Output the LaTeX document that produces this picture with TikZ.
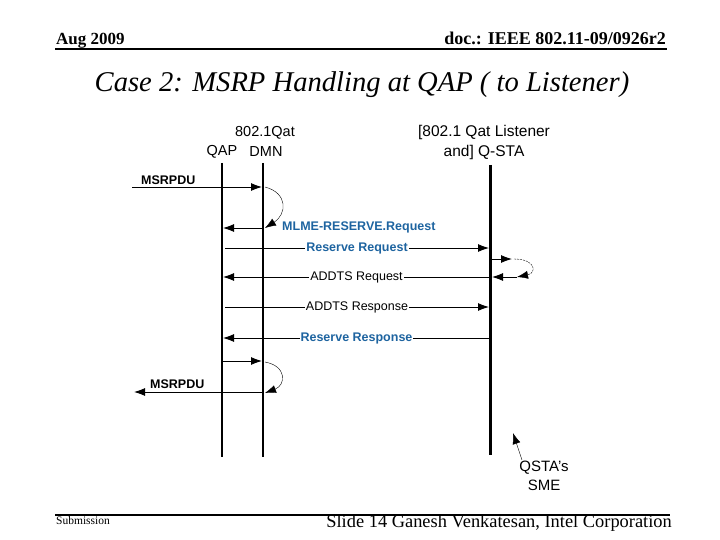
\documentclass[tikz,border=0pt]{standalone}
\usepackage{fontspec}
\setmainfont{Liberation Serif}
\setsansfont{Liberation Sans}
\usetikzlibrary{arrows.meta,positioning}
\definecolor{msgblue}{RGB}{30,100,160}
\tikzset{
    lifeline/.style={line width=#1},
    msg/.style={line width=0.9pt, -{Latex[length=11pt,width=8pt]}},
    loopline/.style={line width=0.4pt, -{Latex[length=11pt,width=8pt]}},
    headlbl/.style={font=\sffamily\fontsize{14.5}{16}\selectfont, inner sep=0pt},
    msglbl/.style={font=\sffamily\fontsize{12.5}{14}\selectfont, inner sep=1pt, fill=white},
    bluelbl/.style={msglbl, font=\sffamily\bfseries\fontsize{12.5}{14}\selectfont, text=msgblue},
}

\begin{document}
\begin{tikzpicture}[x=1pt, y=-1pt]
    \useasboundingbox (0,0) rectangle (720,540);

    % header and footer
    \node[anchor=base west, inner sep=0pt, font=\bfseries\fontsize{17}{18}\selectfont] (date) at (56,45) {Aug 2009};
    \node[anchor=base east, inner sep=0pt, font=\bfseries\fontsize{18}{18}\selectfont] (doc) at (666,45) {doc.: IEEE 802.11-09/0926r2};
    \coordinate (hl) at (55,49);
    \coordinate (hr) at (667,49);
    \draw[line width=2pt] (hl) -- (hr);

    \node[font=\itshape\fontsize{28.6}{30}\selectfont, inner sep=0pt] (title) at (362,85) {Case 2: MSRP Handling at QAP ( to Listener)};

    \coordinate (fl) at (55,515);
    \coordinate (fr) at (670,515);
    \draw[line width=2pt] (fl) -- (fr);
    \node[anchor=base west, inner sep=0pt, font=\fontsize{11.5}{12}\selectfont] (subm) at (56,524) {Submission};
    \node[anchor=base east, inner sep=0pt, font=\fontsize{18.4}{19}\selectfont] (slide) at (672,527) {Slide 14 Ganesh Venkatesan, Intel Corporation};

    % lifelines
    \coordinate (qapT) at (222,163);
    \coordinate (qapB) at (222,457);
    \coordinate (dmnT) at (263,163);
    \coordinate (dmnB) at (263,457);
    \coordinate (staT) at (490,165);
    \coordinate (staB) at (490,455);

    \draw[lifeline=1.2pt] (qapT) -- (qapB);
    \draw[lifeline=2pt] (dmnT) -- (dmnB);
    \draw[lifeline=3pt] (staT) -- (staB);

    \node[headlbl] (qat) at (265,133) {802.1Qat};
    \node[headlbl] (qap) at (222,152) {QAP};
    \node[headlbl] (dmn) at (266,152) {DMN};
    \node[headlbl, font=\sffamily\fontsize{15.5}{16}\selectfont] (lst) at (484,132) {[802.1 Qat Listener};
    \node[headlbl, font=\sffamily\fontsize{15.5}{16}\selectfont] (qsta) at (484,152) {and] Q-STA};

    % MSRPDU in
    \coordinate (inL) at (132,187);
    \coordinate (inR) at (262,187);
    \draw[msg] (inL) -- (inR);
    \node[anchor=base west, font=\sffamily\bfseries\fontsize{12.5}{14}\selectfont, inner sep=0pt] (pduin) at (141,185) {MSRPDU};

    \coordinate (c1s) at (265,187);
    \coordinate (c1e) at (265,228);
    \draw[loopline] (c1s) .. controls (288,193) and (287,214) .. (c1e);

    % MLME request
    \coordinate (mlR) at (263,228);
    \coordinate (mlL) at (223,228);
    \draw[msg] (mlR) -- (mlL);
    \node[bluelbl, fill=none, anchor=west] (mlme) at (281,227) {MLME-RESERVE.Request};

    % QAP <-> Q-STA
    \coordinate (rqL) at (225,248);
    \coordinate (rqR) at (489,248);
    \draw[msg] (rqL) -- node[bluelbl] (rreq) {Reserve Request} (rqR);

    \coordinate (l1s) at (491,259);
    \coordinate (l1e) at (512,259);
    \draw[msg] (l1s) -- (l1e);
    \coordinate (l2s) at (514,259);
    \coordinate (l2e) at (517,277);
    \draw[loopline, dash pattern=on 2pt off 1pt] (l2s) .. controls (536,259) and (537,273) .. (l2e);
    \coordinate (l3s) at (517,277);
    \coordinate (l3e) at (492,277);
    \draw[msg] (l3s) -- (l3e);

    \coordinate (arR) at (490,277);
    \coordinate (arL) at (223,277);
    \draw[msg] (arR) -- node[msglbl] (areq) {ADDTS Request} (arL);

    \coordinate (apL) at (225,307);
    \coordinate (apR) at (489,307);
    \draw[msg] (apL) -- node[msglbl] (aresp) {ADDTS Response} (apR);

    \coordinate (rpR) at (490,338);
    \coordinate (rpL) at (223,338);
    \draw[msg] (rpR) -- node[bluelbl] (rresp) {Reserve Response} (rpL);

    % MSRPDU out
    \coordinate (d2L) at (223,361);
    \coordinate (d2R) at (262,361);
    \draw[msg] (d2L) -- (d2R);

    \coordinate (c2s) at (265,362);
    \coordinate (c2e) at (265,393);
    \draw[loopline] (c2s) .. controls (287,366) and (286,385) .. (c2e);

    \coordinate (outR) at (263,392);
    \coordinate (outL) at (134,392);
    \draw[msg] (outR) -- (outL);
    \node[anchor=base west, font=\sffamily\bfseries\fontsize{12.5}{14}\selectfont, inner sep=0pt] (pduout) at (150,388) {MSRPDU};

    % station management entity
    \node[font=\sffamily\fontsize{15}{19}\selectfont, align=center, inner sep=0pt] (sme) at (544,476) {QSTA’s\\SME};
    \coordinate (smeT) at (513,433);
    \coordinate (smeS) at (522,460);
    \draw[loopline] (smeS) -- (smeT);
\end{tikzpicture}
\end{document}
